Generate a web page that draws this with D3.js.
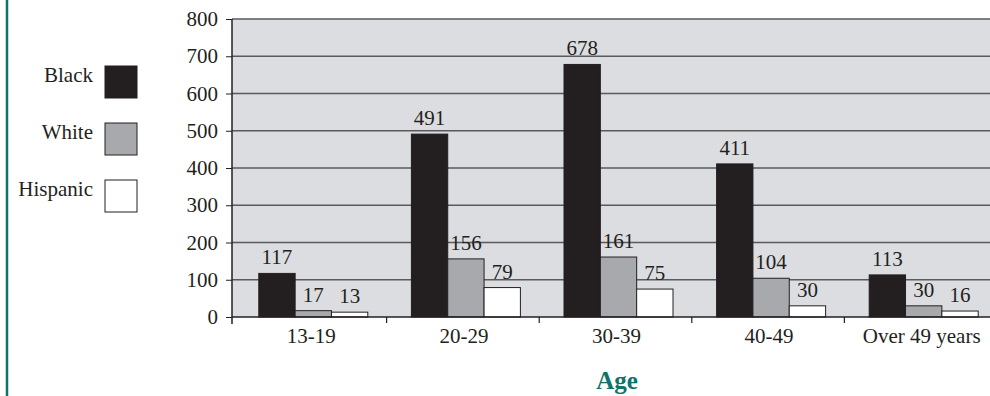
<!DOCTYPE html>
<meta charset="utf-8">
<style>
    body { margin: 0; background: #fff; }
    svg text { font-family: "Liberation Serif", "Times New Roman", serif; fill: #231f20; }
</style>
<body>
<script src="https://d3js.org/d3.v7.min.js"></script>
<script>
    var ageGroups = ["13-19", "20-29", "30-39", "40-49", "Over 49 years"];
    var races = ["Black", "White", "Hispanic"];
    var black = [117, 491, 678, 411, 113];
    var white = [17, 156, 161, 104, 30];
    var hispanic = [13, 79, 75, 30, 16];
    var yTicks = [0, 100, 200, 300, 400, 500, 600, 700, 800];

    var colors = { Black: "#231f20", White: "#a7a9ac", Hispanic: "#ffffff" };
    var series = { Black: black, White: white, Hispanic: hispanic };

    var width = 990, height = 396;
    var plotLeft = 232, plotTop = 19, plotBottom = 317;

    var svg = d3.select("body").append("svg")
        .attr("width", width)
        .attr("height", height);

    // teal rule down the left edge
    svg.append("line")
        .attr("x1", 7).attr("x2", 7).attr("y1", 0).attr("y2", height)
        .attr("stroke", "#0e7368").attr("stroke-width", 2.5);

    var x = d3.scaleBand().domain(ageGroups).range([234, 997]);
    var xInner = d3.scaleBand().domain(races)
        .range([0, x.bandwidth()]).paddingOuter(0.6).paddingInner(0);
    var y = d3.scaleLinear().domain([0, 800]).range([plotBottom, plotTop]);

    // plot background
    svg.append("rect")
        .attr("x", plotLeft).attr("y", y(800))
        .attr("width", width - plotLeft).attr("height", y(0) - y(800))
        .attr("fill", "#dcdde0");

    // gridlines
    svg.append("g").selectAll("line")
        .data(yTicks.filter(function (d) { return d > 0; }))
        .enter().append("line")
        .attr("x1", plotLeft).attr("x2", width)
        .attr("y1", function (d) { return y(d); })
        .attr("y2", function (d) { return y(d); })
        .attr("stroke", "#5a5a5c").attr("stroke-width", 1.5);

    // bars
    var groups = svg.append("g").selectAll("g")
        .data(ageGroups)
        .enter().append("g")
        .attr("transform", function (d) { return "translate(" + (x(d) + 3) + ",0)"; });

    groups.selectAll("rect")
        .data(function (d, i) { return races.map(function (r) { return { race: r, value: series[r][i] }; }); })
        .enter().append("rect")
        .attr("x", function (d) { return xInner(d.race); })
        .attr("y", function (d) { return y(d.value); })
        .attr("width", xInner.bandwidth())
        .attr("height", function (d) { return y(0) - y(d.value); })
        .attr("fill", function (d) { return colors[d.race]; })
        .attr("stroke", "#231f20").attr("stroke-width", 1);

    groups.selectAll("text")
        .data(function (d, i) { return races.map(function (r) { return { race: r, value: series[r][i] }; }); })
        .enter().append("text")
        .attr("x", function (d) { return xInner(d.race) + xInner.bandwidth() / 2; })
        .attr("y", function (d) { return y(d.value) - 9; })
        .attr("text-anchor", "middle")
        .style("font-size", "21px")
        .text(function (d) { return d.value; });

    // y axis
    var yAxis = svg.append("g")
        .attr("transform", "translate(" + plotLeft + ",0)")
        .call(d3.axisLeft(y).tickValues(yTicks).tickSize(6).tickPadding(8));
    yAxis.select(".domain").remove();
    yAxis.selectAll("line").attr("stroke", "#231f20");
    yAxis.selectAll("text")
        .style("font-size", "21px").style("font-family", "Liberation Serif, serif")
        .attr("fill", "#231f20");
    svg.append("line")
        .attr("x1", plotLeft).attr("x2", plotLeft).attr("y1", y(800)).attr("y2", y(0) + 7)
        .attr("stroke", "#231f20").attr("stroke-width", 1.5);

    // x axis baseline and category ticks
    svg.append("line")
        .attr("x1", plotLeft).attr("x2", width).attr("y1", y(0)).attr("y2", y(0))
        .attr("stroke", "#231f20").attr("stroke-width", 1.5);
    svg.append("g").selectAll("line")
        .data(ageGroups.slice(1))
        .enter().append("line")
        .attr("x1", function (d) { return x(d); })
        .attr("x2", function (d) { return x(d); })
        .attr("y1", y(0)).attr("y2", y(0) + 6)
        .attr("stroke", "#231f20").attr("stroke-width", 1.2);
    svg.append("g").selectAll("text")
        .data(ageGroups)
        .enter().append("text")
        .attr("x", function (d) { return x(d) + x.bandwidth() / 2 + 1; })
        .attr("y", 343)
        .attr("text-anchor", "middle")
        .style("font-size", "21px")
        .text(function (d) { return d; });

    // axis title
    svg.append("text")
        .attr("x", 617).attr("y", 389)
        .attr("text-anchor", "middle")
        .style("font-size", "25px").style("font-weight", "bold")
        .style("fill", "#0e7368")
        .text("Age");

    // legend
    var legend = svg.append("g").selectAll("g")
        .data(races)
        .enter().append("g")
        .attr("transform", function (d, i) { return "translate(0," + (66 + i * 57) + ")"; });
    legend.append("rect")
        .attr("x", 105).attr("y", 0).attr("width", 32).attr("height", 32)
        .attr("fill", function (d) { return colors[d]; })
        .attr("stroke", "#231f20").attr("stroke-width", 1);
    legend.append("text")
        .attr("x", 93).attr("y", 16)
        .attr("text-anchor", "end")
        .style("font-size", "21px")
        .text(function (d) { return d; });
</script>
</body>
